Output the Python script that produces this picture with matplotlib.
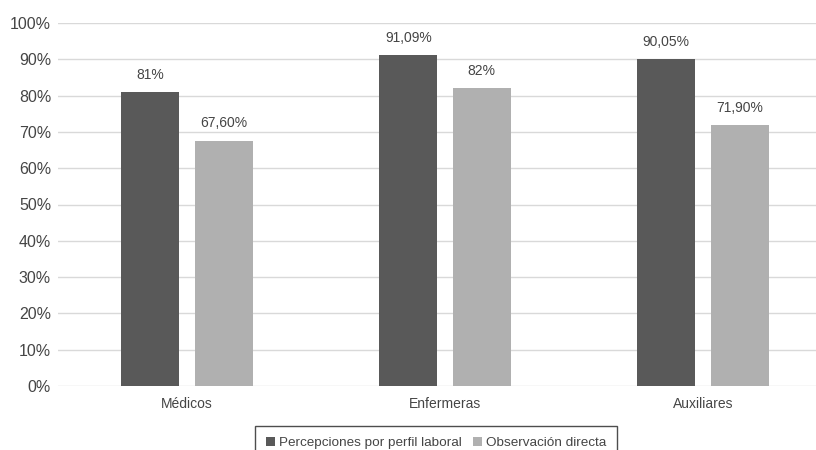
import matplotlib
matplotlib.use("Agg")
import matplotlib.pyplot as plt
import numpy as np

plt.rcParams['font.family'] = ['Liberation Sans', 'DejaVu Sans']

categories = ["Médicos", "Enfermeras", "Auxiliares"]
series_names = ["Percepciones por perfil laboral", "Observación directa"]
percepciones = [81.0, 91.09, 90.05]
observacion = [67.60, 82.0, 71.90]
percepciones_labels = ["81%", "91,09%", "90,05%"]
observacion_labels = ["67,60%", "82%", "71,90%"]
yticks = [0, 10, 20, 30, 40, 50, 60, 70, 80, 90, 100]

dark = "#595959"
light = "#b0b0b0"
txt = "#454545"

fig = plt.figure(figsize=(8.16, 4.5), dpi=100)
ax = fig.add_axes([58/816, 1-386/450, 1-58/816, (386-23)/450])

x = np.arange(len(categories))
w = 0.225
off = 0.142
b1 = ax.bar(x - off, percepciones, w, color=dark, label=series_names[0], zorder=3)
b2 = ax.bar(x + off, observacion, w, color=light, label=series_names[1], zorder=3)

for rect, lab in zip(b1, percepciones_labels):
    ax.annotate(lab, (rect.get_x() + rect.get_width()/2, rect.get_height()),
                xytext=(0, 7.5), textcoords="offset points", ha="center", va="bottom",
                fontsize=10, color=txt)
for rect, lab in zip(b2, observacion_labels):
    ax.annotate(lab, (rect.get_x() + rect.get_width()/2, rect.get_height()),
                xytext=(0, 7.5), textcoords="offset points", ha="center", va="bottom",
                fontsize=10, color=txt)

ax.set_ylim(0, 100)
ax.set_xlim(-0.5, (816-187)/258)
ax.set_yticks(yticks)
ax.set_yticklabels([f"{v}%" for v in yticks], fontsize=11.5, color=txt)
ax.set_xticks(x)
ax.set_xticklabels(categories, fontsize=10, color=txt)
ax.tick_params(axis='both', length=0)
ax.tick_params(axis='y', pad=5)
ax.tick_params(axis='x', pad=8)
ax.grid(axis='y', color="#d9d9d9", linewidth=1, zorder=0)
for s in ax.spines.values():
    s.set_visible(False)

leg = fig.legend(handles=[b1, b2], labels=series_names, loc="upper center",
                 bbox_to_anchor=(436/816, 1-426/450), ncol=2, frameon=True,
                 fontsize=9.7, handlelength=0.7, handleheight=0.7, handletextpad=0.3,
                 columnspacing=0.8, borderpad=0.8, borderaxespad=0, fancybox=False,
                 labelcolor=txt)
leg.get_frame().set_edgecolor("#222222")
leg.get_frame().set_linewidth(1.0)

fig.savefig("out.png", dpi=100)
